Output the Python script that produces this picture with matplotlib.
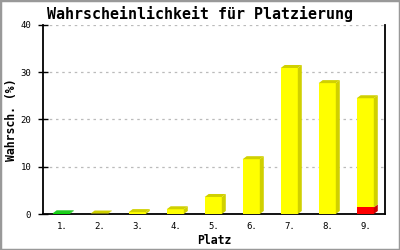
import matplotlib
matplotlib.use("Agg")
import matplotlib.pyplot as plt
from matplotlib.patches import Polygon, Rectangle
import numpy as np

# ---- data ----
places = ["1.", "2.", "3.", "4.", "5.", "6.", "7.", "8.", "9."]
values = [0.15, 0.1, 0.4, 1.0, 3.6, 11.6, 30.9, 27.7, 24.5]
red_part = [0, 0, 0, 0, 0, 0, 0, 0, 1.4]
green_flag = [1, 0, 0, 0, 0, 0, 0, 0, 0]
yticks = [0, 10, 20, 30, 40]

title = "Wahrscheinlichkeit für Platzierung"
ylabel = "Wahrsch. (%)"
xlabel = "Platz"

# ---- styles ----
YELLOW, YELLOW_D = "#ffff00", "#d0d000"
GREEN, GREEN_D = "#00dd00", "#22cc22"
RED, RED_D = "#ff0000", "#cc0000"
MONO = "DejaVu Sans Mono"

W, H, DPI = 400, 250, 100
fig = plt.figure(figsize=(W / DPI, H / DPI), dpi=DPI)
fig.patch.set_facecolor("white")
fig.patches.append(Rectangle((0, 0), 1, 1, transform=fig.transFigure,
                             fill=False, edgecolor="#999999", linewidth=2.5))

ax_l, ax_r, ax_t, ax_b = 43, 385, 25, 214
ax = fig.add_axes([ax_l / W, (H - ax_b) / H, (ax_r - ax_l) / W, (ax_b - ax_t) / H])
ax.set_xlim(-0.5, len(places) - 0.5)
ax.set_ylim(0, 40)

# pixel -> data conversion for 3D depth
px_x = (len(places)) / (ax_r - ax_l)
px_y = 40 / (ax_b - ax_t)
ddx, ddy = 4 * px_x, 3 * px_y
bw = 0.45
shift = -0.02


def box(x0, y0, y1, front, dark):
    x1 = x0 + bw
    ax.add_patch(Rectangle((x0, y0), bw, y1 - y0, facecolor=front,
                           edgecolor="none", zorder=3))
    # side
    ax.add_patch(Polygon([(x1, y0), (x1 + ddx, y0 + ddy), (x1 + ddx, y1 + ddy), (x1, y1)],
                         closed=True, facecolor=dark, edgecolor="none", zorder=3))


for i, v in enumerate(values):
    x0 = i + shift - bw / 2
    if green_flag[i]:
        front, dark = GREEN, GREEN_D
    else:
        front, dark = YELLOW, YELLOW_D
    r = red_part[i]
    if r > 0:
        box(x0, 0, r, RED, RED_D)
        box(x0, r, v, front, dark)
    else:
        box(x0, 0, v, front, dark)
    x1 = x0 + bw
    ax.add_patch(Polygon([(x0, v), (x0 + ddx, v + ddy), (x1 + ddx, v + ddy), (x1, v)],
                         closed=True, facecolor=dark, edgecolor="none", zorder=3))

ax.set_xticks(range(len(places)))
ax.set_xticklabels(places, fontfamily=MONO, fontsize=6.5)
ax.set_yticks(yticks)
ax.set_yticklabels([str(t) for t in yticks], fontfamily=MONO, fontsize=6.5)
ax.tick_params(axis="x", length=0, pad=6)
ax.tick_params(axis="y", direction="inout", length=7, width=1, pad=5)

ax.grid(axis="y", color="#bbbbbb", linestyle=(0, (2, 3)), linewidth=0.9)
ax.set_axisbelow(True)
for s in ["left", "bottom", "right"]:
    ax.spines[s].set_linewidth(1.3)
    ax.spines[s].set_color("black")
ax.spines["top"].set_visible(False)

ax.set_ylabel(ylabel, fontfamily=MONO, fontweight="bold", fontsize=8.3)
ax.yaxis.set_label_coords((12 - ax_l) / (ax_r - ax_l), 0.5)
ax.set_xlabel(xlabel, fontfamily=MONO, fontweight="bold", fontsize=8.3)
ax.xaxis.set_label_coords(0.5, -(240 - ax_b) / (ax_b - ax_t))
ax.xaxis.label.set_va("center")
ax.yaxis.label.set_va("center")
fig.text(0.5, (H - 14) / H, title, ha="center", va="center",
         fontfamily=MONO, fontweight="bold", fontsize=10.8)

fig.savefig("out.png", dpi=DPI, facecolor="white")
